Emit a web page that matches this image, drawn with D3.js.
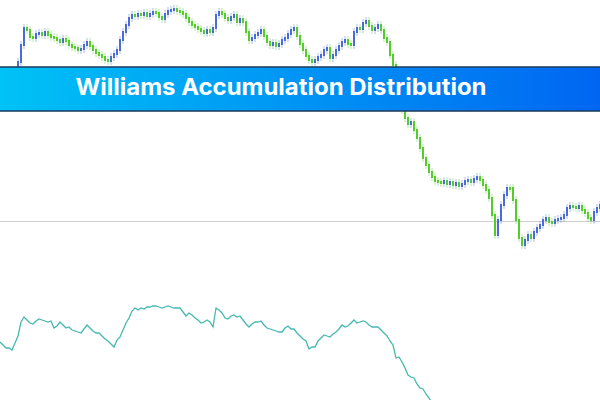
<!DOCTYPE html>
<html><head><meta charset="utf-8">
<script src="https://cdn.jsdelivr.net/npm/d3@7"></script>
<style>html,body{margin:0;padding:0;background:#fff;}svg{display:block;}</style>
</head><body>
<svg id="c" width="600" height="400"></svg>
<script>
// Price closes (one per bar)
const closes = [
1.2538,1.2555,1.2572,1.2570,1.2563,1.2562,1.2566,1.2567,1.2565,1.2568,
1.2565,1.2563,1.2562,1.2560,1.2558,1.2561,1.2559,1.2555,1.2553,1.2552,
1.2550,1.2551,1.2555,1.2558,1.2554,1.2550,1.2547,1.2545,1.2543,1.2540,
1.2539,1.2543,1.2546,1.2550,1.2560,1.2568,1.2575,1.2582,1.2585,1.2584,
1.2586,1.2585,1.2587,1.2584,1.2586,1.2588,1.2587,1.2583,1.2581,1.2586,
1.2589,1.2590,1.2591,1.2589,1.2588,1.2586,1.2582,1.2578,1.2575,1.2573,
1.2571,1.2569,1.2567,1.2570,1.2568,1.2572,1.2585,1.2588,1.2586,1.2582,
1.2580,1.2583,1.2585,1.2578,1.2581,1.2578,1.2568,1.2560,1.2562,1.2565,
1.2567,1.2570,1.2564,1.2558,1.2555,1.2557,1.2554,1.2556,1.2560,1.2562,
1.2566,1.2570,1.2572,1.2564,1.2556,1.2550,1.2544,1.2540,1.2538,1.2540,
1.2543,1.2545,1.2550,1.2552,1.2542,1.2545,1.2550,1.2554,1.2558,1.2560,
1.2556,1.2555,1.2568,1.2572,1.2571,1.2577,1.2579,1.2574,1.2570,1.2572,
1.2575,1.2570,1.2562,1.2558,1.2545,1.2535,1.2520,1.2505,1.2490,1.2482,
1.2476,1.2478,1.2470,1.2462,1.2452,1.2442,1.2435,1.2428,1.2423,1.2419,
1.2418,1.2417,1.2419,1.2416,1.2418,1.2415,1.2417,1.2414,1.2416,1.2419,
1.2420,1.2418,1.2421,1.2423,1.2420,1.2415,1.2410,1.2402,1.2385,1.2365,
1.2380,1.2395,1.2405,1.2412,1.2412,1.2400,1.2380,1.2362,1.2355,1.2360,
1.2365,1.2362,1.2368,1.2372,1.2375,1.2380,1.2382,1.2378,1.2377,1.2380,
1.2381,1.2382,1.2385,1.2392,1.2394,1.2393,1.2392,1.2394,1.2390,1.2387,
1.2382,1.2380,1.2388,1.2392,1.2395
];
const firstOpen = 1.2534;
const levelPrice = 1.2379;

// Williams Accumulation/Distribution values, starting at bar index wadStart
const wadStart = -6;
const wad = [
58,55,52,52,50,57,64,78,83,80,
77,76,79,81,80,79,78,79,72,74,
78,75,72,73,70,69,68,67,71,75,
72,69,67,67,64,61,59,56,53,60,
63,70,77,82,89,92,90,92,91,93,
93,94,94,93,92,93,94,93,92,92,
92,88,84,87,85,82,80,77,78,80,
78,73,92,90,87,82,81,84,85,83,
84,80,76,73,76,78,78,79,75,72,
71,70,69,68,68,72,74,71,71,67,
64,61,59,51,53,53,59,62,65,64,
63,66,68,71,75,73,74,77,80,77,
78,79,78,75,73,73,73,70,67,64,
59,55,42,43,38,32,25,23,22,16,
12,11,6,2,-3,-8
];

const title = "Williams Accumulation Distribution";

const W = 600, H = 400;
const svg = d3.select("#c");

const x = d3.scaleLinear().domain([0, closes.length - 1]).range([18, 600]);
const yP = d3.scaleLinear().domain([1.2350, 1.2600]).range([250, 0]);
const yW = d3.scaleLinear().domain([0, 100]).range([400, 300]);

// level line
svg.append("line")
  .attr("x1", 0).attr("x2", W)
  .attr("y1", Math.round(yP(levelPrice)) + 0.5).attr("y2", Math.round(yP(levelPrice)) + 0.5)
  .attr("stroke", "#cfcfcf").attr("stroke-width", 1);

const bars = closes.map((c, i) => ({i, o: i === 0 ? firstOpen : closes[i - 1], c}));
const upCol = "#4a6cd6", dnCol = "#55cc2e";

const g = svg.append("g");
g.selectAll("line.wick").data(bars).join("line")
  .attr("class", "wick")
  .attr("x1", d => x(d.i)).attr("x2", d => x(d.i))
  .attr("y1", d => Math.min(yP(d.o), yP(d.c)) - 4)
  .attr("y2", d => Math.max(yP(d.o), yP(d.c)) + 4)
  .attr("stroke", d => d.c > d.o ? upCol : dnCol)
  .attr("stroke-opacity", 0.45).attr("stroke-width", 1);
g.selectAll("rect.body").data(bars).join("rect")
  .attr("class", "body")
  .attr("x", d => x(d.i) - 1)
  .attr("width", 2)
  .attr("y", d => Math.min(yP(d.o), yP(d.c)) - 1)
  .attr("height", d => Math.max(3, Math.abs(yP(d.o) - yP(d.c)) + 2))
  .attr("fill", d => d.c > d.o ? upCol : dnCol);

// WAD line
const line = d3.line()
  .x((d, k) => x(wadStart + k))
  .y(d => yW(d));
svg.append("path").datum(wad)
  .attr("d", line)
  .attr("fill", "none")
  .attr("stroke", "#45b9b1")
  .attr("stroke-width", 1.3);

// Banner
const defs = svg.append("defs");
const grad = defs.append("linearGradient").attr("id", "bg")
  .attr("x1", "0%").attr("x2", "100%").attr("y1", "0%").attr("y2", "0%");
grad.append("stop").attr("offset", "0%").attr("stop-color", "#00c2f6");
grad.append("stop").attr("offset", "100%").attr("stop-color", "#0066f2");

svg.append("rect").attr("x", 0).attr("y", 67).attr("width", W).attr("height", 44)
  .attr("fill", "url(#bg)");
svg.append("line").attr("x1", 0).attr("x2", W).attr("y1", 67).attr("y2", 67)
  .attr("stroke", "#183a5c").attr("stroke-width", 1.6);
svg.append("line").attr("x1", 0).attr("x2", W).attr("y1", 111).attr("y2", 111)
  .attr("stroke", "#183a5c").attr("stroke-width", 1.6);

svg.append("text")
  .attr("x", 281).attr("y", 95)
  .attr("text-anchor", "middle")
  .attr("font-family", "Inter, 'Open Sans', sans-serif")
  .attr("font-weight", 700)
  .attr("font-size", 23)
  .attr("fill", "#ffffff")
  .attr("textLength", 411)
  .attr("lengthAdjust", "spacingAndGlyphs")
  .text(title);
</script>
</body></html>
